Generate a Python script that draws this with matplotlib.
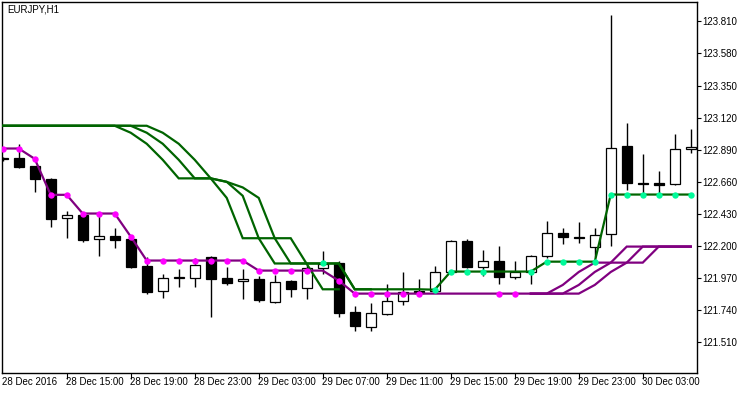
import numpy as np
import matplotlib.pyplot as plt
from matplotlib.transforms import blended_transform_factory

# EURJPY H1, bars from 28 Dec 2016 11:00 to 30 Dec 2016 06:00
opens = [122.828, 122.830, 122.775, 122.682, 122.400, 122.421, 122.249, 122.273, 122.251, 122.057,
         121.876, 121.974, 121.974, 122.122, 121.971, 121.948, 121.964, 121.801, 121.950, 121.897,
         122.040, 122.077, 121.727, 121.622, 121.715, 121.803, 121.878, 121.875, 122.014, 122.237,
         122.047, 122.093, 121.981, 122.012, 122.127, 122.292, 122.265, 122.192, 122.285, 122.918,
         122.655, 122.653, 122.644, 122.895]
highs = [122.839, 122.933, 122.777, 122.687, 122.452, 122.423, 122.433, 122.330, 122.265, 122.124,
         122.000, 122.036, 122.113, 122.131, 122.050, 122.036, 121.984, 121.993, 121.960, 122.065,
         122.167, 122.093, 121.770, 121.792, 121.930, 122.016, 121.964, 122.057, 122.244, 122.251,
         122.172, 122.203, 122.093, 122.136, 122.380, 122.330, 122.373, 122.330, 123.858, 123.083,
         122.861, 122.739, 123.004, 123.042]
lows = [122.811, 122.760, 122.590, 122.339, 122.260, 122.232, 122.129, 122.189, 122.045, 121.853,
        121.830, 121.909, 121.909, 121.694, 121.923, 121.823, 121.801, 121.794, 121.837, 121.818,
        122.000, 121.694, 121.593, 121.593, 121.708, 121.780, 121.853, 121.868, 122.007, 122.046,
        121.986, 121.926, 121.964, 121.926, 122.115, 122.217, 122.225, 122.122, 122.203, 122.603,
        122.581, 122.581, 122.636, 122.870]
closes = [122.822, 122.770, 122.677, 122.397, 122.421, 122.246, 122.270, 122.246, 122.052, 121.873,
          121.969, 121.978, 122.062, 121.966, 121.938, 121.964, 121.814, 121.940, 121.895, 122.043,
          122.072, 121.722, 121.629, 121.718, 121.806, 121.873, 121.862, 122.012, 122.237, 122.052,
          122.092, 121.981, 122.017, 122.129, 122.292, 122.263, 122.256, 122.280, 122.902, 122.655,
          122.648, 122.641, 122.895, 122.911]

# green lines (None = not drawn)
green_1 = [123.062, 123.062, 123.062, 123.062, 123.062, 123.062, 123.062, 123.062, 123.012, 122.933,
           122.818, 122.685, 122.685, 122.685, 122.545, 122.256, 122.256, 122.256, 122.256, 122.072,
           121.890, 121.890, None, None, None, None, None, None, None, None,
           None, None, None, None, None, None, None, None, None, None,
           None, None, None, None]
green_2 = [123.062, 123.062, 123.062, 123.062, 123.062, 123.062, 123.062, 123.062, 123.062, 123.012,
           122.933, 122.818, 122.685, 122.685, 122.660, 122.560, 122.256, 122.075, 122.075, 122.075,
           122.075, 122.075, 121.890, 121.890, 121.890, 121.890, 121.890, 121.887, 122.017, 122.017,
           122.017, 122.017, 122.017, 122.017, 122.088, 122.088, 122.088, 122.088, 122.569, 122.569,
           122.569, 122.569, 122.569, 122.569]
green_3 = [123.062, 123.062, 123.062, 123.062, 123.062, 123.062, 123.062, 123.062, 123.062, 123.062,
           123.012, 122.933, 122.818, 122.685, 122.660, 122.620, 122.545, 122.256, 122.075, 122.075,
           122.075, 122.075, 121.890, 121.890, None, None, None, None, None, None,
           None, None, None, None, None, None, None, None, None, None,
           None, None, None, None]

# purple lines
purple_1 = [122.899, 122.899, 122.825, 122.567, 122.567, 122.433, 122.433, 122.433, 122.268, 122.096,
            122.096, 122.096, 122.096, 122.096, 122.096, 122.096, 122.024, 122.024, 122.024, 122.024,
            122.024, 121.952, 121.859, 121.859, 121.859, 121.859, 121.859, 121.859, 121.859, 121.859,
            121.859, 121.859, 121.859, 121.859, 121.859, 121.921, 122.014, 122.081, 122.081, 122.196,
            122.196, 122.196, 122.196, 122.196]
purple_2 = [None] * 33 + [121.859, 121.859, 121.859, 121.921, 122.014, 122.081, 122.081, 122.196,
                          122.196, 122.196, 122.196]
purple_3 = [None] * 33 + [121.859, 121.859, 121.859, 121.859, 121.921, 122.014, 122.081, 122.081,
                          122.196, 122.196, 122.196]

# bars with a magenta dot on purple_1, the rest get a green dot on green_2
magenta_dots = [0, 1, 2, 3, 4, 5, 6, 7, 8, 9, 10, 11, 12, 13, 14, 15, 16, 17, 18, 19,
                21, 22, 23, 24, 25, 26, 31, 32]
green_dots = [20, 27, 28, 29, 30, 33, 34, 35, 36, 37, 38, 39, 40, 41, 42, 43]

tick_labels = ['28 Dec 2016', '28 Dec 15:00', '28 Dec 19:00', '28 Dec 23:00', '29 Dec 03:00',
               '29 Dec 07:00', '29 Dec 11:00', '29 Dec 15:00', '29 Dec 19:00', '29 Dec 23:00',
               '30 Dec 03:00']
price_ticks = [121.510, 121.740, 121.970, 122.200, 122.430, 122.660, 122.890, 123.120,
               123.350, 123.580, 123.810]


def arr(v):
    return np.array([np.nan if a is None else a for a in v], dtype=float)


plt.rcParams['font.family'] = ['Liberation Sans', 'DejaVu Sans']

fig = plt.figure(figsize=(7.5, 3.94), dpi=100)
ax = fig.add_axes([2.3 / 750, 21 / 394, 694.7 / 750, 371 / 394])

x = np.arange(len(opens))
o = np.array(opens)
c = np.array(closes)

# wicks, then bodies
ax.vlines(x, lows, highs, color='black', lw=1, zorder=1)
bottoms = np.minimum(o, c)
heights = np.maximum(np.abs(c - o), 0.004)
colors = ['black' if cc < oo else 'white' for oo, cc in zip(o, c)]
ax.bar(x, heights, bottom=bottoms, width=0.63, color=colors, edgecolor='black',
       linewidth=0.9, zorder=2)

for g in (green_1, green_2, green_3):
    ax.plot(x, arr(g), color='#006400', lw=1.6, zorder=3, solid_joinstyle='miter')
for p in (purple_1, purple_2, purple_3):
    ax.plot(x, arr(p), color='#800080', lw=1.6, zorder=3, solid_joinstyle='miter')

pm = arr(purple_1)
gm = arr(green_2)
ax.plot(magenta_dots, pm[magenta_dots], 'o', color='#FF00FF', ms=4.6, mew=0, zorder=4)
ax.plot(green_dots, gm[green_dots], 'o', color='#00FA9A', ms=4.6, mew=0, zorder=4)

ax.set_xlim(-0.025, 43.39)
ax.set_ylim(121.290, 123.949)

ax.yaxis.tick_right()
ax.set_yticks(price_ticks)
ax.set_yticklabels(['%.3f' % t for t in price_ticks])
ax.tick_params(axis='y', direction='out', length=3, width=0.8, pad=1, labelsize=7)

ax.set_xticks([4, 8, 12, 16, 20, 24, 28, 32, 36, 40])
ax.set_xticklabels([])
ax.tick_params(axis='x', direction='out', length=4, width=0.8)

trans = blended_transform_factory(ax.transData, ax.transAxes)
label_pos = [0, 4, 8, 12, 16, 20, 24, 28, 32, 36, 40]
for k, lab in zip(label_pos, tick_labels):
    ax.text(k - 0.02, -0.024, lab, transform=trans, ha='left', va='center', fontsize=7,
            clip_on=False)

for s in ax.spines.values():
    s.set_linewidth(1)
    s.set_color('black')

fig.text(7 / 750, 1 - 10 / 394, 'EURJPY,H1', ha='left', va='center', fontsize=7)

fig.savefig('out.png', dpi=100)
